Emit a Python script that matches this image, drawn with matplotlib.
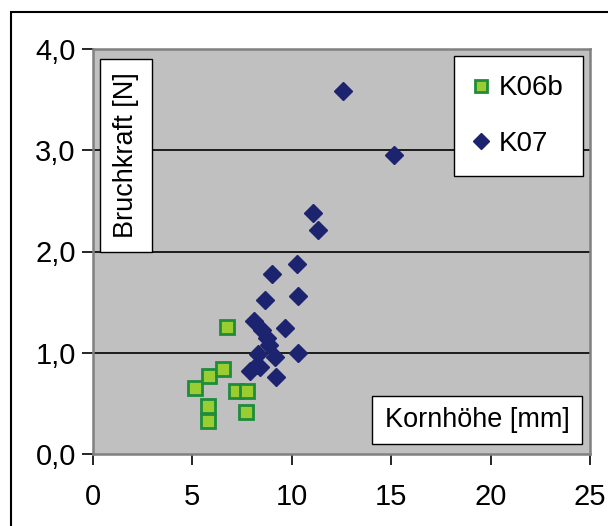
import matplotlib.pyplot as plt
import matplotlib.patches as patches
from matplotlib.lines import Line2D

plt.rcParams['font.family'] = ['Liberation Sans', 'DejaVu Sans']

# K06b series
k06b_x = [6.74, 5.14, 5.85, 6.54, 7.20, 7.75, 5.82, 5.82, 7.70]
k06b_y = [1.25, 0.65, 0.77, 0.84, 0.625, 0.625, 0.47, 0.33, 0.41]

# K07 series
k07_x = [12.6, 15.17, 11.08, 11.35, 10.26, 9.0, 8.67, 10.34, 8.12, 9.67,
         8.53, 8.75, 8.87, 8.33, 9.17, 10.34, 8.25, 7.91, 9.22, 8.40]
k07_y = [3.59, 2.95, 2.38, 2.21, 1.88, 1.78, 1.52, 1.56, 1.31, 1.24,
         1.22, 1.15, 1.08, 0.99, 0.955, 1.0, 0.88, 0.82, 0.76, 0.86]

xticks = [0, 5, 10, 15, 20, 25]
yticks = [0.0, 1.0, 2.0, 3.0, 4.0]
ytick_labels = ['0,0', '1,0', '2,0', '3,0', '4,0']

W, H = 608, 526
L, R, T, B = 92.5, 590, 49, 454

def ax_frac(px, py):
    # pixel position -> axes fraction
    return (px - L) / (R - L), (B - py) / (B - T)

fig = plt.figure(figsize=[6.08, 5.26], dpi=100)
ax = fig.add_axes([L/W, 1-B/H, (R-L)/W, (B-T)/H])

# outer chart frame
frame = patches.Rectangle((11/W, -0.05), 1.0, 1-12/H+0.05, transform=fig.transFigure,
                          fill=False, ec='#000000', lw=1.5, clip_on=False)
fig.patches.append(frame)

ax.set_facecolor('#C0C0C0')
ax.set_xlim(0, 25)
ax.set_ylim(0, 4)
ax.set_xticks(xticks)
ax.set_yticks(yticks)
ax.set_yticklabels(ytick_labels)
ax.tick_params(axis='both', direction='out', length=8, width=1.2, labelsize=21, colors='#000000')
ax.tick_params(axis='x', pad=13)
ax.tick_params(axis='y', pad=4)
for sp in ax.spines.values():
    sp.set_color('#808080')
    sp.set_linewidth(1.8)
for yv in [1, 2, 3]:
    ax.axhline(yv, color='#000000', lw=1.2, zorder=1)

ax.plot(k06b_x, k06b_y, linestyle='none', marker='s', markersize=10.5,
        markerfacecolor='#9ACD32', markeredgecolor='#1E8C3A', markeredgewidth=2, zorder=3)
ax.plot(k07_x, k07_y, linestyle='none', marker='D', markersize=9.5,
        markerfacecolor='#1C2470', markeredgecolor='#1C2470', zorder=4)

# axis label boxes
def label_box(x0, y0, x1, y1, text, rot):
    ax0, ay0 = ax_frac(x0, y1)
    ax1, ay1 = ax_frac(x1, y0)
    ax.add_patch(patches.Rectangle((ax0, ay0), ax1-ax0, ay1-ay0, transform=ax.transAxes,
                                   fc='white', ec='#000000', lw=1, zorder=5))
    ax.text((ax0+ax1)/2, (ay0+ay1)/2, text, transform=ax.transAxes, rotation=rot,
            ha='center', va='center', fontsize=19.5, zorder=6)

label_box(100, 59, 152, 252, 'Bruchkraft [N]', 90)
label_box(372, 396, 582, 444, 'Kornhöhe [mm]', 0)

handles = [Line2D([], [], linestyle='none', marker='s', markersize=9,
                  markerfacecolor='#9ACD32', markeredgecolor='#1E8C3A', markeredgewidth=2),
           Line2D([], [], linestyle='none', marker='D', markersize=8,
                  markerfacecolor='#1C2470', markeredgecolor='#1C2470')]
lx, ly = ax_frac(583, 56)
leg = ax.legend(handles, ['K06b', 'K07'], loc='upper right', bbox_to_anchor=(lx, ly),
                borderaxespad=0, fontsize=20, frameon=True, fancybox=False, handlelength=0.5,
                handletextpad=0.4, labelspacing=1.05, borderpad=0.7)
leg.get_frame().set_edgecolor('#000000')
leg.get_frame().set_linewidth(1)
leg.get_frame().set_alpha(1)

plt.savefig('out.png', dpi=100)
